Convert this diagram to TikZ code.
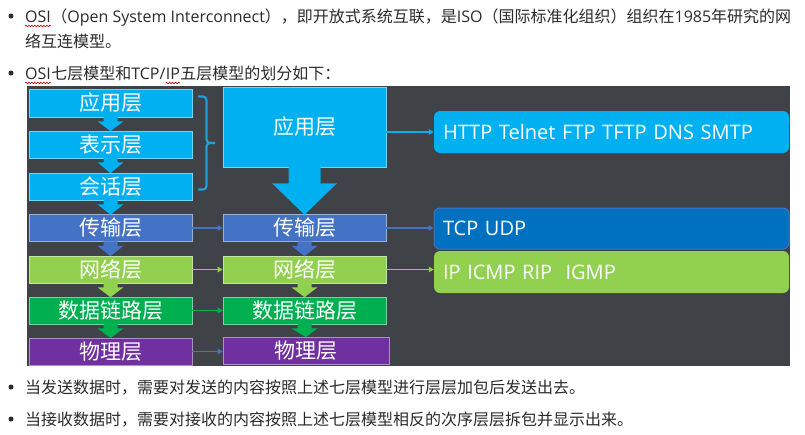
\documentclass[tikz,border=0pt]{standalone}
\usepackage{fontspec}
\setmainfont{Noto Sans CJK SC}
\newfontfamily\lat{Open Sans}
\usetikzlibrary{calc,decorations.pathmorphing,arrows.meta}
\definecolor{panel}{HTML}{3F4247}
\definecolor{lblue}{HTML}{00B0F0}
\definecolor{tblue}{HTML}{4472C4}
\definecolor{ngreen}{HTML}{92D050}
\definecolor{dgreen}{HTML}{00B050}
\definecolor{purp}{HTML}{7030A0}
\definecolor{dblue}{HTML}{0070C0}
\definecolor{bracec}{HTML}{1F9FD8}
\definecolor{bodytxt}{HTML}{2B2B2B}
\newcommand{\blkarr}[3]{%
  \fill[#3] ($(#1.south)+(-7,-0.5)$) -- ($(#1.south)+(-7,4)$) -- ($(#1.south)+(-13,4)$)
    -- ($(#2.north)+(0,0.5)$) -- ($(#1.south)+(13,4)$) -- ($(#1.south)+(7,4)$)
    -- ($(#1.south)+(7,-0.5)$) -- cycle;}
\begin{document}
\begin{tikzpicture}[x=1pt,y=-1pt,
  layer/.style={fill=#1, draw=white!45!#1, line width=0.6pt, text=white,
    minimum width=163pt, minimum height=27pt, inner sep=0pt,
    font=\fontsize{21}{21}\selectfont},
  proto/.style={fill=#1, rounded corners=6pt, text=white, minimum width=355pt,
    minimum height=42pt, text width=337pt, align=left, inner xsep=9pt, inner ysep=0pt,
    font=\lat\fontsize{20}{20}\selectfont},
  body/.style={anchor=base west, inner sep=0pt, text=bodytxt,
    font=\fontsize{16}{16}\selectfont},
  harrow/.style={draw=#1, line width=1.4pt, -{Triangle[length=5pt,width=5.5pt]}},
  squig/.style={draw=red!80!black, line width=0.6pt, decorate,
    decoration={snake, amplitude=0.8pt, segment length=3pt}},
  bullet/.style={fill=bodytxt, circle, inner sep=0pt, minimum size=5pt}]
\useasboundingbox (0,0) rectangle (805,434);
\fill[white] (0,0) rectangle (805,434);

% text above
\node[bullet] (b1) at (11,16) {};
\node[body] (osi1) at (25,22) {\lat OSI};
\node[body] (t1) at (osi1.base east) {（{\lat Open System Interconnect}），即开放式系统互联，是{\lat ISO}（国际标准化组织）组织在{\lat 1985}年研究的网};
\node[body] (t2) at (25,47) {络互连模型。};
\node[bullet] (b3) at (11,73) {};
\node[body] (osi3) at (25,79) {\lat OSI};
\node[body] (t3a) at (osi3.base east) {七层模型和{\lat TCP/}};
\node[body] (ip3) at (t3a.base east) {\lat IP};
\node[body] (t3b) at (ip3.base east) {五层模型的划分如下：};
\draw[squig] ($(osi1.base west)+(0,4)$) -- ($(osi1.base east)+(0,4)$);
\draw[squig] ($(osi3.base west)+(0,4)$) -- ($(osi3.base east)+(0,4)$);
\draw[squig] ($(ip3.base west)+(0,4)$) -- ($(ip3.base east)+(0,4)$);

% panel
\fill[panel] (27,86) rectangle (790,366);

% OSI seven layers
\node[layer=lblue, minimum height=28pt] (app7) at (110.5,103) {应用层};
\node[layer=lblue] (pres) at (110.5,144.5) {表示层};
\node[layer=lblue] (sess) at (110.5,186.5) {会话层};
\node[layer=tblue] (tran) at (110.5,228) {传输层};
\node[layer=ngreen] (netw) at (110.5,269.5) {网络层};
\node[layer=dgreen] (link) at (110.5,310.5) {数据链路层};
\node[layer=purp] (phys) at (110.5,351.5) {物理层};

% TCP/IP five layers
\node[layer=lblue, minimum height=80pt] (app5) at (304.5,127) {应用层};
\node[layer=tblue] (tran5) at (304.5,228) {传输层};
\node[layer=ngreen] (netw5) at (304.5,269.5) {网络层};
\node[layer=dgreen] (link5) at (304.5,310.5) {数据链路层};
\node[layer=purp, minimum width=166pt] (phys5) at (306,350.5) {物理层};

% protocol boxes
\node[proto=lblue] (http) at (611.5,132) {HTTP Telnet FTP TFTP DNS SMTP};
\node[proto=dblue, draw=tblue, line width=1pt, minimum height=41pt] (tcp) at (611.5,228.5) {TCP UDP};
\node[proto=ngreen] (ipn) at (611.5,272) {IP ICMP RIP\ \ IGMP};

% down block arrows
\blkarr{app7}{pres}{lblue}
\blkarr{pres}{sess}{lblue}
\blkarr{sess}{tran}{lblue}
\blkarr{tran}{netw}{tblue}
\blkarr{netw}{link}{ngreen}
\blkarr{link}{phys}{dgreen}
\blkarr{tran5}{netw5}{tblue}
\blkarr{netw5}{link5}{ngreen}
\blkarr{link5}{phys5}{dgreen}
\fill[lblue] ($(app5.south)+(-16,-0.5)$) -- ($(app5.south)+(-16,16)$) -- ($(app5.south)+(-32.5,16)$)
  -- ($(tran5.north)+(0,0.5)$) -- ($(app5.south)+(32.5,16)$) -- ($(app5.south)+(16,16)$)
  -- ($(app5.south)+(16,-0.5)$) -- cycle;

% brace
\coordinate (bt) at (198,96.5);
\coordinate (bb) at (198,189.5);
\coordinate (bm) at (215,143);
\draw[bracec, line width=2.2pt, rounded corners=3.5pt] (bt) -- ++(8.5,0) -- (206.5,143) -- (bm);
\draw[bracec, line width=2.2pt, rounded corners=3.5pt] (bb) -- ++(8.5,0) -- (206.5,143) -- (bm);

% horizontal arrows
\draw[harrow=tblue] (tran.east) -- (tran5.west);
\draw[harrow=ngreen] (netw.east) -- (netw5.west);
\draw[harrow=dgreen] (link.east) -- (link5.west);
\draw[harrow=tblue] (phys.east) -- (phys.east -| phys5.west);
\draw[harrow=lblue] (app5.east |- http.west) -- (http.west);
\draw[harrow=tblue] (tran5.east) -- (tran5.east -| tcp.west);
\draw[harrow=ngreen] (netw5.east) -- (netw5.east -| ipn.west);

% text below
\node[bullet] (b4) at (11,387) {};
\node[body] (t4) at (25,393) {当发送数据时，需要对发送的内容按照上述七层模型进行层层加包后发送出去。};
\node[bullet] (b5) at (11,419) {};
\node[body] (t5) at (25,425) {当接收数据时，需要对接收的内容按照上述七层模型相反的次序层层拆包并显示出来。};
\end{tikzpicture}
\end{document}
